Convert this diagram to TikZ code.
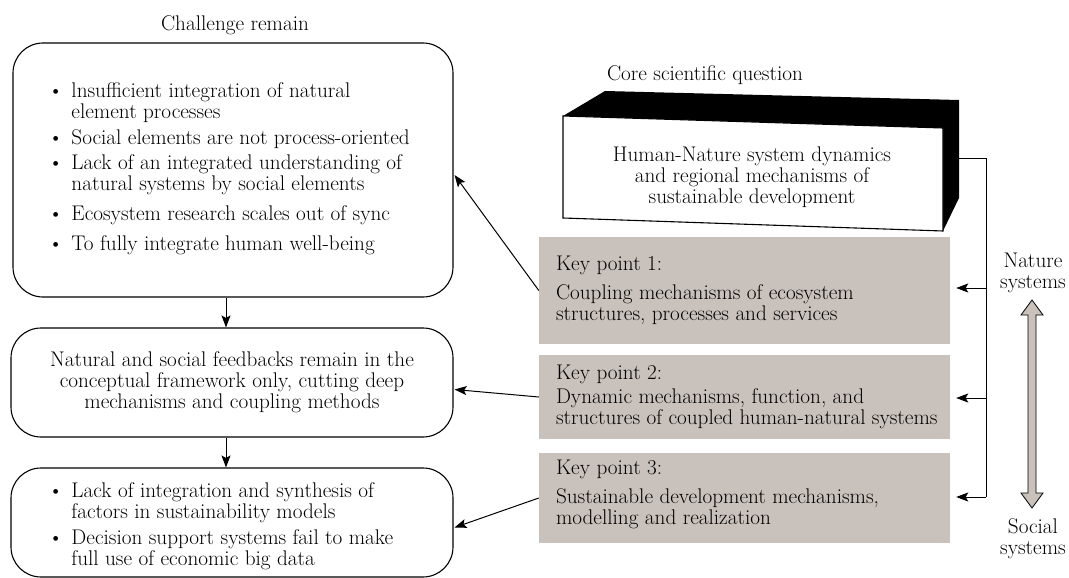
\documentclass[tikz,border=0pt]{standalone}
\usetikzlibrary{arrows.meta,calc}
\definecolor{keygray}{RGB}{201,193,188}
\begin{document}
\begin{tikzpicture}[x=1pt,y=-1pt,
  font=\fontsize{21.2}{21}\selectfont,
  lbox/.style={draw,line width=1.1pt,rounded corners=30pt,inner sep=0pt},
  keybox/.style={fill=keygray,minimum width=411pt,inner sep=0pt},
  keytext/.style={anchor=west,align=left,inner sep=0pt},
  arr/.style={line width=1pt,-{Stealth[length=12pt,width=9pt,inset=2.5pt]}},
  plain/.style={line width=1pt}
]
\useasboundingbox (0,0) rectangle (1069,578);

% titles
\node (tch) at (235,25) {Challenge remain};
\node (tcore) at (705,75) {Core scientific question};

% left column
\node[lbox, minimum width=440pt, minimum height=254pt] (c1) at (233,170) {};
\node[anchor=west, inner sep=0pt] (t1) at (48,170) {%
\begin{tabular}{@{}l@{\hspace{8pt}}l@{}}
\textbullet & lnsufficient integration of natural\\
 & element processes\\[4pt]
\textbullet & Social elements are not process-oriented\\[4pt]
\textbullet & Lack of an integrated understanding of\\
 & natural systems by social elements\\[9pt]
\textbullet & Ecosystem research scales out of sync\\[9pt]
\textbullet & To fully integrate human well-being
\end{tabular}};

\node[lbox, minimum width=442pt, minimum height=109pt, align=center] (c2) at (232,382.5)
 {Natural and social feedbacks remain in the\\conceptual framework only, cutting deep\\mechanisms and coupling methods};

\node[lbox, minimum width=442pt, minimum height=109pt] (c3) at (232,522.5) {};
\node[anchor=west, inner sep=0pt] (t3) at (48,527) {%
\begin{tabular}{@{}l@{\hspace{8pt}}l@{}}
\textbullet & Lack of integration and synthesis of\\
 & factors in sustainability models\\[5pt]
\textbullet & Decision support systems fail to make\\
 & full use of economic big data
\end{tabular}};

\coordinate (ax) at (226,0);
\draw[arr] (c1.south -| ax) -- (c2.north -| ax);
\draw[arr] (c2.south -| ax) -- (c3.north -| ax);

% core 3D box
\fill (563,116) -- (605,91) -- (959,100) -- (959,198) -- (943,231) -- (943,128) -- cycle;
\draw[fill=white, line width=1.1pt] (563,116) -- (943,128) -- (943,231) -- (563,218) -- cycle;
\node[align=center] (core) at (752,177) {Human-Nature system dynamics\\and regional mechanisms of\\sustainable development};

% key boxes
\node[keybox, minimum height=107pt] (k1) at (744.5,290.5) {};
\node[keytext] (k1t) at ($(k1.west)+(17,0)$) {Key point 1:\\[8pt]Coupling mechanisms of ecosystem\\structures, processes and services};
\node[keybox, minimum height=84pt] (k2) at (744.5,397) {};
\node[keytext] (k2t) at ($(k2.west)+(17,0)$) {Key point 2:\\[3pt]Dynamic mechanisms, function, and\\structures of coupled human-natural systems};
\node[keybox, minimum height=90pt] (k3) at (744.5,498) {};
\node[keytext] (k3t) at ($(k3.west)+(17,-4)$) {Key point 3:\\[8pt]Sustainable development mechanisms,\\modelling and realization};

% bus connector
\coordinate (coreR) at (959,158);
\coordinate (busTop) at (986,158);
\coordinate (bus1) at (986,288);
\coordinate (bus2) at (986,398);
\coordinate (bus3) at (986,497);
\draw[plain] (coreR) -- (busTop) -- (bus3);
\draw[arr, shorten >=6pt] (bus1) -- (k1.east |- bus1);
\draw[arr, shorten >=6pt] (bus2) -- (k2.east |- bus2);
\draw[arr, shorten >=6pt] (bus3) -- (k3.east |- bus3);

% key -> challenge arrows
\draw[arr] (k1.west) -- ($(c1.east)+(1,5)$);
\draw[arr] (k2.west) -- ($(c2.east)+(1,7)$);
\draw[arr] (k3.west) -- ($(c3.east)+(1,5)$);

% nature / social
\node[align=center] (nat) at (1033,273) {Nature\\systems};
\node[align=center] (soc) at (1033,539) {Social\\systems};
\draw[fill=keygray, line width=0.8pt] (1032,300) -- (1043,315) -- (1036,315) -- (1036,493) -- (1043,493) -- (1032,508) -- (1021,493) -- (1028,493) -- (1028,315) -- (1021,315) -- cycle;
\end{tikzpicture}
\end{document}
